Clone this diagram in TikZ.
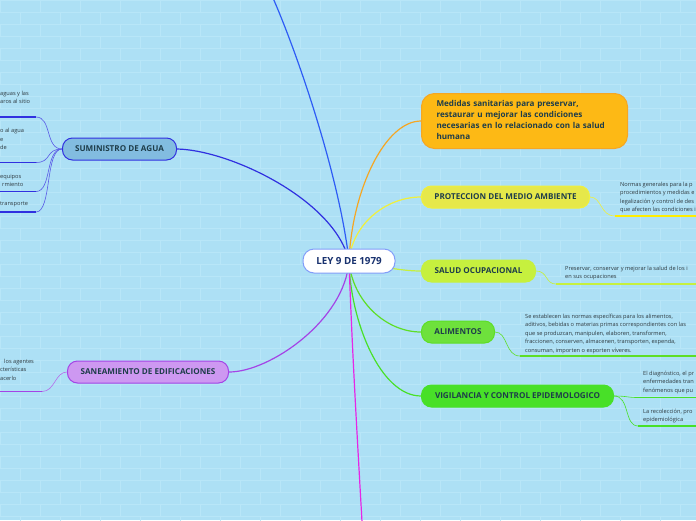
\documentclass[tikz,border=0pt]{standalone}
\usepackage{fontspec}
\setmainfont{Open Sans}
\usetikzlibrary{positioning,backgrounds}
\definecolor{sky}{HTML}{ADE0F5}
\definecolor{brickln}{HTML}{B8E6F8}
\definecolor{ink}{HTML}{1E3D4A}
\definecolor{leafink}{HTML}{2E3A40}
\definecolor{cblue}{HTML}{2E5CF5}
\definecolor{cwater}{HTML}{3030E0}
\definecolor{corange}{HTML}{F5A623}
\definecolor{cyellow}{HTML}{F0F03C}
\definecolor{clime}{HTML}{C6F03E}
\definecolor{cgreen}{HTML}{5EDE26}
\definecolor{cvig}{HTML}{48E028}
\definecolor{cpurple}{HTML}{A444E6}
\definecolor{cmagenta}{HTML}{E626E6}
\definecolor{fwater}{HTML}{82BCE0}
\definecolor{fyellow}{HTML}{E6E84A}
\definecolor{forange}{HTML}{FDB915}
\pgfdeclarelayer{paper}
\pgfsetlayers{paper,background,main}

\begin{document}
\begin{tikzpicture}[
  x=1pt, y=-1pt,
  topic/.style={draw, line width=1pt, rounded corners=10pt, anchor=west,
    minimum height=22pt, inner xsep=4pt, text=ink,
    font=\fontsize{8.1}{11}\selectfont\bfseries},
  root/.style={draw=cblue!60!white, line width=1pt, fill=white, rounded corners=11pt,
    minimum width=92pt, minimum height=24pt, text=ink!80!blue,
    font=\fontsize{9.8}{11}\selectfont\bfseries},
  leaf/.style={anchor=north west, inner sep=0pt, align=left, text=leafink,
    font=\fontsize{5.65}{8.5}\selectfont},
  branch/.style={line width=1.2pt},
  twig/.style={line width=0.6pt},
  rule/.style={line width=1.8pt},
  brick/.style={draw=brickln, line width=0.6pt},
]
\useasboundingbox (0,0) rectangle (696,520);
\clip (0,0) rectangle (696,520);
% --- paper ---
\begin{pgfonlayer}{paper}
  \fill[sky] (0,0) rectangle (696,520);
  \foreach \r in {0,...,43} {
    \draw[brick] (0,\r*12) -- (696,\r*12);
    \pgfmathsetmacro\off{mod(\r,2)*20}
    \foreach \c in {0,40,...,720}
      \draw[brick] (\c+\off,\r*12) -- (\c+\off,\r*12+12);
  }
\end{pgfonlayer}
% --- centre ---
\node[root] (ley) at (349,261) {LEY 9 DE 1979};
% --- topics ---
\node[topic, draw=cwater, fill=fwater, minimum width=114pt] (agua) at (62,149) {SUMINISTRO DE AGUA};
\node[topic, draw=cpurple, fill=cpurple!55!white, minimum width=161pt] (edif) at (67,372) {SANEAMIENTO DE EDIFICACIONES};
\node[topic, draw=corange, fill=forange, text width=176pt, minimum height=55pt,
  rounded corners=13pt, align=left, inner xsep=15pt] (medidas) at (421,121)
  {Medidas sanitarias para preservar,\\restaurar u mejorar las condiciones\\necesarias en lo relacionado con la salud\\humana\phantom{g}};
\node[topic, draw=cyellow, fill=fyellow, minimum width=168pt] (ambiente) at (421,197) {PROTECCION DEL MEDIO AMBIENTE};
\node[topic, draw=clime, fill=clime, minimum width=114pt] (salud) at (421,271) {SALUD OCUPACIONAL};
\node[topic, draw=cgreen, fill=cgreen!90!white, minimum width=73pt] (alim) at (421,332) {ALIMENTOS};
\node[topic, draw=cvig, fill=cvig, minimum width=192pt] (vigil) at (421,396) {VIGILANCIA Y CONTROL EPIDEMOLOGICO};
% --- leaf texts ---
\node[leaf] (a1) at (0,91) {aguas y las\\aros al sitio};
\node[leaf] (a2) at (0,128.5) {o al agua\\e\\de};
\node[leaf] (a3) at (0,174) {equipos\\\hspace{2pt}rmiento};
\node[leaf] (a4) at (0,202) {transporte};
\node[leaf] (e1) at (0,358.5) {\hspace{4pt}los agentes\\cterísticas\\acerlo};
\node[leaf] (m1) at (620,181.8) {Normas generales para la p\\procedimientos y medidas e\\legalización y control de des\\que afecten las condiciones i};
\node[leaf] (s1) at (565,265.8) {Preservar, conservar y mejorar la salud de los i\\en sus ocupaciones};
\node[leaf] (l1) at (525,313.5) {Se establecen las normas específicas para los alimentos,\\aditivos, bebidas o materias primas correspondientes con las\\que se produzcan, manipulen, elaboren, transformen,\\fraccionen, conserven, almacenen, transporten, expenda,\\consuman, importen o exporten víveres.};
\node[leaf] (v1) at (643,370.8) {El diagnóstico, el pr\\enfermedades tran\\fenómenos que pu};
\node[leaf] (v2) at (643,408.5) {La recolección, pro\\epidemiológica};
% --- underline ends ---
\coordinate (a1r) at (36,117);
\coordinate (a2r) at (36,162.5);
\coordinate (a3r) at (36,191.5);
\coordinate (a4r) at (36,212);
\coordinate (e1r) at (42,391.5);
\coordinate (m1l) at (615,216);
\coordinate (s1l) at (556,284);
\coordinate (l1l) at (520,356);
\coordinate (v1l) at (638,397.5);
\coordinate (v2l) at (638,426);
\begin{scope}[on background layer]
  % branches from the centre
  \draw[branch, cblue] (ley.center) .. controls (340,180) and (300,60) .. (273,-2);
  \draw[branch, cwater] (ley.center) .. controls (335,200) and (230,150) .. (agua.east);
  \draw[branch, corange] (ley.center) .. controls (352,190) and (385,121) .. (medidas.west);
  \draw[branch, cyellow] (ley.center) .. controls (352,225) and (385,197) .. (ambiente.west);
  \draw[branch, clime] (ley.center) .. controls (380,266) and (400,271) .. (salud.west);
  \draw[branch, cgreen] (ley.center) .. controls (352,300) and (385,332) .. (alim.west);
  \draw[branch, cvig] (ley.center) .. controls (350,320) and (380,396) .. (vigil.west);
  \draw[branch, cpurple] (ley.center) .. controls (345,320) and (270,372) .. (edif.east);
  \draw[branch, cmagenta] (ley.center) .. controls (352,350) and (358,450) .. (362,522);
  % twigs to leaves
  \foreach \t in {a1r,a2r,a3r,a4r}
    \draw[twig, cwater!80!white] (agua.west) .. controls (45,149) and (52,117|-\t) .. (\t);
  \draw[twig, cpurple!80!white] (edif.west) .. controls (55,372) and (55,391.5) .. (e1r);
  \draw[twig, cyellow] (ambiente.east) .. controls (602,197) and (600,216) .. (m1l);
  \draw[twig, clime] (salud.east) .. controls (548,271) and (545,284) .. (s1l);
  \draw[twig, cgreen] (alim.east) .. controls (508,332) and (505,356) .. (l1l);
  \draw[twig, cvig] (vigil.east) .. controls (628,396) and (626,397.5) .. (v1l);
  \draw[twig, cvig] (vigil.east) .. controls (630,396) and (624,426) .. (v2l);
\end{scope}
% --- underlines ---
\foreach \t in {a1r,a2r,a3r,a4r}
  \draw[rule, cwater] (\t) -- (\t -| -5,0);
\draw[rule, cpurple] (e1r) -- (-5,391.5);
\draw[rule, yellow!95!orange] (m1l) -- (700,216);
\draw[rule, clime] (s1l) -- (700,284);
\draw[rule, cgreen] (l1l) -- (700,356);
\draw[rule, cvig] (v1l) -- (700,397.5);
\draw[rule, cvig] (v2l) -- (700,426);
\end{tikzpicture}
\end{document}
